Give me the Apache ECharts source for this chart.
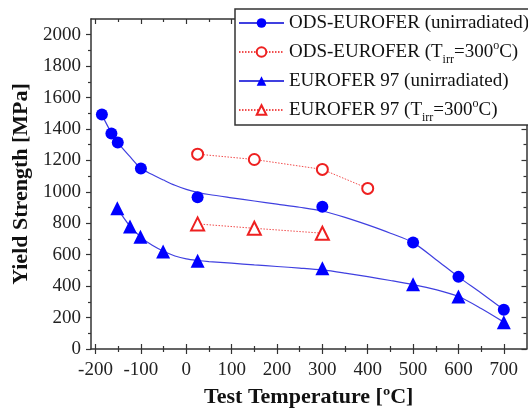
<!DOCTYPE html>
<html>
<head>
<meta charset="utf-8">
<script src="https://cdn.jsdelivr.net/npm/echarts@6/dist/echarts.min.js"></script>
<style>
  html, body { margin: 0; padding: 0; background: #fff; }
  #main { width: 528px; height: 410px; }
</style>
</head>
<body>
<div id="main"></div>
<script>
// measured points
var odsUnirrT = [-186, -165, -151, -100, 25, 300, 500, 600, 700];
var odsUnirrY = [1492, 1371, 1314, 1149, 965, 905, 677, 459, 250];
var odsIrrT = [25, 150, 300, 400];
var odsIrrY = [1240, 1206, 1143, 1022];
var eurUnirrT = [-152, -124, -101, -51, 25, 300, 500, 600, 700];
var eurUnirrY = [895, 779, 715, 620, 561, 514, 412, 334, 171];
var eurIrrT = [25, 150, 300];
var eurIrrY = [796, 768, 737];

// fitted curves
var odsFitT = [-186, -165, -150, -125, -100, -75, -50, -25, 0, 25, 50, 100, 150, 200, 250, 300, 350, 400, 450, 500, 550, 600, 650, 700];
var odsFitY = [1490, 1375, 1310, 1227, 1150, 1110, 1075, 1042, 1016, 997, 983, 962, 942, 922, 902, 878, 838, 790, 737, 677, 570, 459, 356, 250];
var eurFitT = [-152, -125, -100, -75, -50, -25, 0, 25, 50, 100, 150, 200, 250, 300, 350, 400, 450, 500, 550, 600, 650, 700];
var eurFitY = [895, 785, 712, 660, 622, 592, 573, 563, 556, 546, 535, 525, 515, 503, 483, 460, 436, 410, 378, 334, 258, 171];

// ticks
var xMajor = [-200, -100, 0, 100, 200, 300, 400, 500, 600, 700];
var xMinor = [-150, -50, 50, 150, 250, 350, 450, 550, 650];
var yMajor = [0, 200, 400, 600, 800, 1000, 1200, 1400, 1600, 1800, 2000];
var yMinor = [100, 300, 500, 700, 900, 1100, 1300, 1500, 1700, 1900];

var names = [
    'ODS-EUROFER (unirradiated)',
    'ODS-EUROFER (T{sub|irr}=300{sup|o}C)',
    'EUROFER 97 (unirradiated)',
    'EUROFER 97 (T{sub|irr}=300{sup|o}C)'
];

function zip(a, b) {
    return a.map(function (v, i) { return [v, b[i]]; });
}
function plain(v) { return String(v); }

var serif = 'Liberation Serif';
var axisCol = '#333';
var blue = '#0000ff';
var fitBlue = '#4040e0';
var red = '#ee2020';

function xAx(pos, ticks, inside, len, extra) {
    var a = {
        type: 'value', position: pos, min: -210, max: 750,
        splitLine: { show: false },
        axisLine: { show: false, onZero: false },
        axisLabel: { show: false },
        axisTick: { show: true, inside: inside, length: len, customValues: ticks,
            lineStyle: { color: axisCol, width: 1.2 } }
    };
    return Object.assign(a, extra || {});
}
function yAx(pos, ticks, inside, len, extra) {
    var a = {
        type: 'value', position: pos, min: 0, max: 2100,
        splitLine: { show: false },
        axisLine: { show: false, onZero: false },
        axisLabel: { show: false },
        axisTick: { show: true, inside: inside, length: len, customValues: ticks,
            lineStyle: { color: axisCol, width: 1.2 } }
    };
    return Object.assign(a, extra || {});
}

var myChart = echarts.init(document.getElementById('main'));

var option = {
    animation: false,
    backgroundColor: '#fff',
    grid: { left: 91, right: 1.5, top: 19, bottom: 61, containLabel: false, outerBoundsMode: 'none' },
    legend: {
        left: 235, top: 9,
        orient: 'vertical',
        padding: [0, 2, 1, 3],
        itemWidth: 45, itemHeight: 12, itemGap: 1,
        backgroundColor: '#fff',
        borderColor: '#333', borderWidth: 1.5, borderRadius: 0,
        data: names,
        textStyle: {
            fontFamily: serif, fontSize: 19, color: '#111', lineHeight: 28,
            rich: {
                sub: { fontFamily: serif, fontSize: 12, color: '#111', lineHeight: 12, verticalAlign: 'bottom' },
                sup: { fontFamily: serif, fontSize: 12, color: '#111', lineHeight: 12, verticalAlign: 'top', padding: [2, 0, 0, 0] }
            }
        }
    },
    xAxis: [
        xAx('bottom', xMajor, false, 5, {
            axisLine: { show: true, onZero: false, lineStyle: { color: axisCol, width: 1.5 } },
            axisLabel: { show: true, customValues: xMajor, margin: 12, formatter: plain,
                fontFamily: serif, fontSize: 19, color: '#222' },
            name: 'Test Temperature [ºC]', nameLocation: 'middle', nameGap: 37,
            nameTextStyle: { fontFamily: serif, fontSize: 22, fontWeight: 'bold', color: '#111' }
        }),
        xAx('bottom', xMajor, true, 5),
        xAx('bottom', xMinor, false, 3),
        xAx('bottom', xMinor, true, 3),
        xAx('top', xMajor, true, 5, {
            axisLine: { show: true, onZero: false, lineStyle: { color: axisCol, width: 1.5 } }
        }),
        xAx('top', xMinor, true, 3)
    ],
    yAxis: [
        yAx('left', yMajor, false, 5, {
            axisLine: { show: true, onZero: false, lineStyle: { color: axisCol, width: 1.5 } },
            axisLabel: { show: true, customValues: yMajor, margin: 10, formatter: plain,
                fontFamily: serif, fontSize: 19, color: '#222' },
            name: 'Yield Strength [MPa]', nameLocation: 'middle', nameGap: 59,
            nameTextStyle: { fontFamily: serif, fontSize: 22, fontWeight: 'bold', color: '#111' }
        }),
        yAx('left', yMinor, false, 3),
        yAx('right', yMajor, true, 5, {
            axisLine: { show: true, onZero: false, lineStyle: { color: axisCol, width: 1.5 } }
        }),
        yAx('right', yMinor, true, 3)
    ],
    series: [
        // fit lines first so the legend takes its icon from them
        {
            name: names[0], type: 'line', smooth: 0.3,
            symbol: 'circle', symbolSize: 12, showSymbol: false,
            itemStyle: { color: blue },
            lineStyle: { color: fitBlue, width: 1.2 },
            data: zip(odsFitT, odsFitY), z: 2
        },
        {
            name: names[2], type: 'line', smooth: 0.3,
            symbol: 'triangle', symbolSize: 13, showSymbol: false,
            itemStyle: { color: blue },
            lineStyle: { color: fitBlue, width: 1.2 },
            data: zip(eurFitT, eurFitY), z: 2
        },
        {
            name: names[0], type: 'scatter', symbol: 'circle', symbolSize: 12,
            itemStyle: { color: blue, opacity: 1 },
            data: zip(odsUnirrT, odsUnirrY), z: 3
        },
        {
            name: names[2], type: 'scatter', symbol: 'triangle', symbolSize: 14,
            itemStyle: { color: blue, opacity: 1 },
            data: zip(eurUnirrT, eurUnirrY), z: 3
        },
        {
            name: names[1], type: 'line', symbol: 'emptyCircle', symbolSize: 11,
            itemStyle: { color: red, borderWidth: 1.6 },
            lineStyle: { color: red, width: 1, type: [1.5, 1.5], opacity: 0.8 },
            data: zip(odsIrrT, odsIrrY), z: 3
        },
        {
            name: names[3], type: 'line', symbol: 'emptyTriangle', symbolSize: 13,
            itemStyle: { color: red, borderWidth: 1.6 },
            lineStyle: { color: red, width: 1, type: [1.5, 1.5], opacity: 0.8 },
            data: zip(eurIrrT, eurIrrY), z: 3
        }
    ]
};
myChart.setOption(option);
</script>
</body>
</html>
